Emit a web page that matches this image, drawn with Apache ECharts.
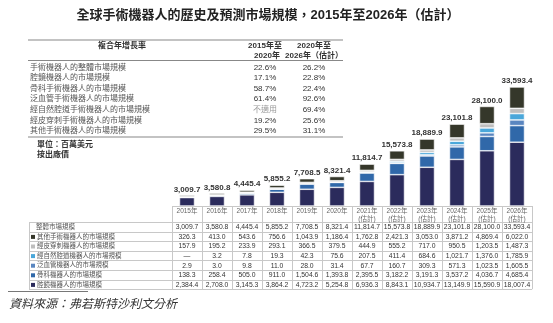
<!DOCTYPE html>
<html><head><meta charset="utf-8">
<script src="https://cdn.jsdelivr.net/npm/echarts@6/dist/echarts.min.js"></script>
<style>html,body{margin:0;padding:0;background:#fff}#c{width:553px;height:323px}</style>
</head><body><div id="c"></div>
<script>
// ---------- data ----------
const years = ['2015','2016','2017','2018','2019','2020','2021','2022','2023','2024','2025','2026'];
const yearLabels = ['2015年','2016年','2017年','2018年','2019年','2020年','2021年\n(估計)','2022年\n(估計)','2023年\n(估計)','2024年\n(估計)','2025年\n(估計)','2026年\n(估計)'];
const totals      = [3009.7,3580.8,4445.4,5855.2,7708.5,8321.4,11814.7,15573.8,18889.9,23101.8,28100.0,33593.4];
const otherRobot  = [326.3,413.0,543.6,756.6,1043.9,1186.4,1762.8,2421.3,3053.0,3871.2,4869.4,6022.0];
const percutRobot = [157.9,195.2,233.9,293.1,366.5,379.5,444.9,555.2,717.0,950.5,1203.5,1487.3];
const naturalRobot= [null,3.2,7.8,19.3,42.3,75.6,207.5,411.4,684.6,1021.7,1376.0,1785.9];
const vascRobot   = [2.9,3.0,9.8,11.0,28.0,31.4,67.7,160.7,309.3,571.3,1023.5,1605.5];
const orthoRobot  = [138.3,258.4,505.0,911.0,1504.6,1393.8,2395.5,3182.2,3191.3,3537.2,4036.7,4685.4];
const lapRobot    = [2384.4,2708.0,3145.3,3864.2,4723.2,5254.8,6936.3,8843.1,10934.7,13149.9,15590.9,18007.4];
const rowLabels = ['整體市場規模','其他手術機器人的市場規模','經皮穿刺機器人的市場規模','經自然腔道機器人的市場規模','泛血管機器人的市場規模','骨科機器人的市場規模','腔鏡機器人的市場規模'];
const cagrLabels = ['手術機器人的整體市場規模','腔鏡機器人的市場規模','骨科手術機器人的市場規模','泛血管手術機器人的市場規模','經自然腔道手術機器人的市場規模','經皮穿刺手術機器人的市場規模','其他手術機器人的市場規模'];
const cagr1520 = ['22.6%','17.1%','58.7%','61.4%','不適用','19.2%','29.5%'];
const cagr2026 = ['26.2%','22.8%','22.4%','92.6%','69.4%','25.6%','31.1%'];

const colors = {lap:'#2b2b5c', ortho:'#3068a9', vasc:'#5a86c0', natural:'#4aa7da', percut:'#bebebe', other:'#35372a'};
const FONT = "'Liberation Sans','Noto Sans CJK TC',sans-serif";
const fmt = v => v == null ? '—' : v.toLocaleString('en-US',{minimumFractionDigits:1,maximumFractionDigits:1});

const stackDefs = [
  {name:'腔鏡機器人的市場規模', data:lapRobot, color:colors.lap},
  {name:'骨科機器人的市場規模', data:orthoRobot, color:colors.ortho},
  {name:'泛血管機器人的市場規模', data:vascRobot, color:colors.vasc},
  {name:'經自然腔道機器人的市場規模', data:naturalRobot, color:colors.natural},
  {name:'經皮穿刺機器人的市場規模', data:percutRobot, color:colors.percut},
  {name:'其他手術機器人的市場規模', data:otherRobot, color:colors.other}
];

const chart = echarts.init(document.getElementById('c'), null, {renderer:'canvas'});
const option = {
  animation:false,
  backgroundColor:'#fff',
  textStyle:{fontFamily:FONT},
  grid:{left:172, right:21, top:64.3, bottom:117},
  xAxis:{type:'category', data:years, axisLine:{show:false}, axisTick:{show:false},
    axisLabel:{formatter:(v,i)=>yearLabels[i], fontSize:6.5, color:'#666', lineHeight:8, margin:1, fontFamily:FONT}},
  yAxis:{type:'value', min:0, max:40000, show:false, splitLine:{show:false}},
  series: stackDefs.map((s,k)=>({
    type:'bar', name:s.name, stack:'total', data:s.data, barWidth:15,
    itemStyle:{color:s.color, borderColor:'#fff', borderWidth:0.6},
    label: k===stackDefs.length-1 ? {show:true, position:'top', distance:2,
      formatter:p=>fmt(totals[p.dataIndex]), fontSize:8, fontWeight:'bold', color:'#333', fontFamily:FONT} : {show:false}
  }))
};
chart.setOption(option);

// ---------- build table & texts using axis scale ----------
const cx = years.map(y=>chart.convertToPixel({xAxisIndex:0}, y));
const band = cx[1]-cx[0];
const x0 = cx[0]-band/2, x1 = cx[cx.length-1]+band/2;
const yBase = chart.convertToPixel({yAxisIndex:0}, 0);
const rowTop = yBase + 16, rowH = 9.6;
const tableLeft = 29;
const lineCol = '#c8c8c8';
const g = [];
const line = (xa,ya,xb,yb,c,w)=>g.push({type:'line', shape:{x1:xa,y1:ya,x2:xb,y2:yb}, style:{stroke:c||lineCol, lineWidth:w||1}, silent:true});
const text = (t,x,y,o)=>g.push({type:'text', x:x, y:y, style:Object.assign({text:t, fill:'#444', font:'7px '+FONT, textAlign:'left', textVerticalAlign:'middle'}, o||{}), silent:true});

// lower table
line(x0, yBase+0.5, x1, yBase+0.5);
for (let r=0;r<=rowLabels.length;r++) line(tableLeft, Math.round(rowTop+r*rowH)+0.5, x1, Math.round(rowTop+r*rowH)+0.5);
line(tableLeft+0.5, rowTop, tableLeft+0.5, rowTop+rowLabels.length*rowH);
for (let i=0;i<=years.length;i++){ const xx=Math.round(x0+i*band)+0.5; line(xx, yBase, xx, rowTop+rowLabels.length*rowH); }
const rowData = [totals, otherRobot, percutRobot, naturalRobot, vascRobot, orthoRobot, lapRobot];
const rowColors = [null, colors.other, colors.percut, colors.natural, colors.vasc, colors.ortho, colors.lap];
rowLabels.forEach((lab,r)=>{
  const yy = rowTop + r*rowH + rowH/2 + 0.5;
  if (rowColors[r]) {
    g.push({type:'rect', shape:{x:31, y:yy-2, width:4, height:4}, style:{fill:rowColors[r]}, silent:true});
    text(lab, 37, yy, {font:'6.5px '+FONT, fill:'#555'});
  } else {
    text(lab, 36, yy, {font:'6.5px '+FONT, fill:'#555'});
  }
  rowData[r].forEach((v,i)=> text(fmt(v), cx[i], yy, {textAlign:'center', font:'6.8px '+FONT, fill:'#333'}));
});

// upper CAGR table
line(28, 40, 343, 40, '#888', 1.2);
line(28, 60.5, 343, 60.5, '#888', 1);
line(28, 137, 343, 137, '#888', 1.2);
text('複合年增長率', 122, 46, {textAlign:'center', font:'bold 8px '+FONT, fill:'#333'});
text('2015年至', 265, 46, {textAlign:'center', font:'bold 8px '+FONT, fill:'#333'});
text('2020年', 267, 56, {textAlign:'center', font:'bold 8px '+FONT, fill:'#333'});
text('2020年至', 314, 46, {textAlign:'center', font:'bold 8px '+FONT, fill:'#333'});
text('2026年（估計）', 314, 56, {textAlign:'center', font:'bold 8px '+FONT, fill:'#333'});
cagrLabels.forEach((lab,r)=>{
  const yy = 67.3 + r*10.6;
  text(lab, 30, yy, {font:'8px '+FONT, fill:'#555'});
  text(cagr1520[r], 265, yy, {textAlign:'center', font:'8px '+FONT, fill: cagr1520[r]==='不適用' ? '#999' : '#333'});
  text(cagr2026[r], 314, yy, {textAlign:'center', font:'8px '+FONT, fill:'#333'});
});
text('單位：百萬美元', 37, 145, {font:'bold 8px '+FONT, fill:'#333'});
text('按出廠價', 37, 155, {font:'bold 8px '+FONT, fill:'#333'});

// title & source
text('全球手術機器人的歷史及預測市場規模，2015年至2026年（估計）', 268, 15, {textAlign:'center', font:'bold 13px '+FONT, fill:'#222'});
line(8, 291.5, 88, 291.5, '#777', 1);
text('資料來源：弗若斯特沙利文分析', 9, 305, {font:'italic 12px '+FONT, fill:'#333'});

chart.setOption({graphic:{elements:g}});
</script></body></html>
